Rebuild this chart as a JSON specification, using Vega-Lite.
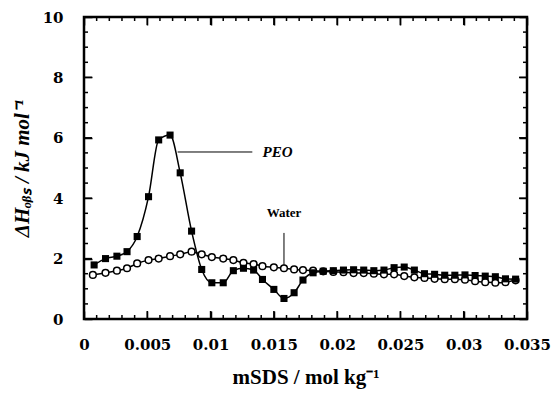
{
  "$schema": "https://vega.github.io/schema/vega-lite/v6.json",
  "width": 443,
  "height": 302,
  "autosize": "none",
  "padding": {"left": 84, "top": 17, "right": 25, "bottom": 75},
  "background": "white",
  "config": {
    "view": {"stroke": "black", "strokeWidth": 2.5},
    "axis": {
      "domain": false,
      "ticks": false,
      "tickSize": 0,
      "grid": false,
      "gridColor": "black",
      "gridOpacity": 1,
      "gridWidth": 1.5,
      "labelColor": "black",
      "labelFont": "DejaVu Serif",
      "labelFontWeight": "bold",
      "labelFontSize": 15,
      "labelOverlap": false,
      "labelFlush": false,
      "titleColor": "black",
      "titleFont": "Liberation Serif",
      "titleFontWeight": "bold",
      "titleFontSize": 21
    }
  },
  "datasets": {
    "series": [
      {"m": 0.0008, "dH": 1.79, "s": "PEO"},
      {"m": 0.0017, "dH": 2.0, "s": "PEO"},
      {"m": 0.0026, "dH": 2.08, "s": "PEO"},
      {"m": 0.0034, "dH": 2.23, "s": "PEO"},
      {"m": 0.0042, "dH": 2.73, "s": "PEO"},
      {"m": 0.0051, "dH": 4.05, "s": "PEO"},
      {"m": 0.0059, "dH": 5.93, "s": "PEO"},
      {"m": 0.0068, "dH": 6.09, "s": "PEO"},
      {"m": 0.0076, "dH": 4.84, "s": "PEO"},
      {"m": 0.0085, "dH": 2.91, "s": "PEO"},
      {"m": 0.0093, "dH": 1.64, "s": "PEO"},
      {"m": 0.0101, "dH": 1.2, "s": "PEO"},
      {"m": 0.011, "dH": 1.2, "s": "PEO"},
      {"m": 0.0118, "dH": 1.6, "s": "PEO"},
      {"m": 0.0126, "dH": 1.68, "s": "PEO"},
      {"m": 0.0134, "dH": 1.62, "s": "PEO"},
      {"m": 0.0141, "dH": 1.31, "s": "PEO"},
      {"m": 0.015, "dH": 0.98, "s": "PEO"},
      {"m": 0.0158, "dH": 0.68, "s": "PEO"},
      {"m": 0.0166, "dH": 0.87, "s": "PEO"},
      {"m": 0.0173, "dH": 1.29, "s": "PEO"},
      {"m": 0.0181, "dH": 1.53, "s": "PEO"},
      {"m": 0.0189, "dH": 1.58, "s": "PEO"},
      {"m": 0.0197, "dH": 1.6, "s": "PEO"},
      {"m": 0.0205, "dH": 1.62, "s": "PEO"},
      {"m": 0.0213, "dH": 1.63, "s": "PEO"},
      {"m": 0.0221, "dH": 1.62, "s": "PEO"},
      {"m": 0.0229, "dH": 1.6, "s": "PEO"},
      {"m": 0.0237, "dH": 1.62, "s": "PEO"},
      {"m": 0.0245, "dH": 1.7, "s": "PEO"},
      {"m": 0.0253, "dH": 1.72, "s": "PEO"},
      {"m": 0.0261, "dH": 1.62, "s": "PEO"},
      {"m": 0.0269, "dH": 1.5, "s": "PEO"},
      {"m": 0.0277, "dH": 1.48, "s": "PEO"},
      {"m": 0.0285, "dH": 1.45, "s": "PEO"},
      {"m": 0.0293, "dH": 1.45, "s": "PEO"},
      {"m": 0.0301, "dH": 1.46, "s": "PEO"},
      {"m": 0.0309, "dH": 1.44, "s": "PEO"},
      {"m": 0.0317, "dH": 1.42, "s": "PEO"},
      {"m": 0.0325, "dH": 1.4, "s": "PEO"},
      {"m": 0.0333, "dH": 1.33, "s": "PEO"},
      {"m": 0.0341, "dH": 1.32, "s": "PEO"},
      {"m": 0.0007, "dH": 1.46, "s": "Water"},
      {"m": 0.0017, "dH": 1.53, "s": "Water"},
      {"m": 0.0026, "dH": 1.6, "s": "Water"},
      {"m": 0.0034, "dH": 1.68, "s": "Water"},
      {"m": 0.0042, "dH": 1.84, "s": "Water"},
      {"m": 0.0051, "dH": 1.95, "s": "Water"},
      {"m": 0.0059, "dH": 2.0, "s": "Water"},
      {"m": 0.0068, "dH": 2.08, "s": "Water"},
      {"m": 0.0076, "dH": 2.14, "s": "Water"},
      {"m": 0.0085, "dH": 2.23, "s": "Water"},
      {"m": 0.0093, "dH": 2.14, "s": "Water"},
      {"m": 0.0101, "dH": 2.05, "s": "Water"},
      {"m": 0.011, "dH": 2.0, "s": "Water"},
      {"m": 0.0118, "dH": 1.95, "s": "Water"},
      {"m": 0.0126, "dH": 1.86, "s": "Water"},
      {"m": 0.0134, "dH": 1.82, "s": "Water"},
      {"m": 0.0141, "dH": 1.75, "s": "Water"},
      {"m": 0.015, "dH": 1.71, "s": "Water"},
      {"m": 0.0158, "dH": 1.68, "s": "Water"},
      {"m": 0.0166, "dH": 1.64, "s": "Water"},
      {"m": 0.0173, "dH": 1.62, "s": "Water"},
      {"m": 0.0181, "dH": 1.6, "s": "Water"},
      {"m": 0.0189, "dH": 1.58, "s": "Water"},
      {"m": 0.0197, "dH": 1.56, "s": "Water"},
      {"m": 0.0205, "dH": 1.55, "s": "Water"},
      {"m": 0.0213, "dH": 1.52, "s": "Water"},
      {"m": 0.0221, "dH": 1.52, "s": "Water"},
      {"m": 0.0229, "dH": 1.5, "s": "Water"},
      {"m": 0.0237, "dH": 1.48, "s": "Water"},
      {"m": 0.0245, "dH": 1.48, "s": "Water"},
      {"m": 0.0253, "dH": 1.42, "s": "Water"},
      {"m": 0.0261, "dH": 1.38, "s": "Water"},
      {"m": 0.0269, "dH": 1.36, "s": "Water"},
      {"m": 0.0277, "dH": 1.33, "s": "Water"},
      {"m": 0.0285, "dH": 1.32, "s": "Water"},
      {"m": 0.0293, "dH": 1.32, "s": "Water"},
      {"m": 0.0301, "dH": 1.3, "s": "Water"},
      {"m": 0.0309, "dH": 1.25, "s": "Water"},
      {"m": 0.0317, "dH": 1.22, "s": "Water"},
      {"m": 0.0325, "dH": 1.2, "s": "Water"},
      {"m": 0.0333, "dH": 1.22, "s": "Water"},
      {"m": 0.0341, "dH": 1.28, "s": "Water"}
    ],
    "xmajor": [{"v": 0.005}, {"v": 0.01}, {"v": 0.015}, {"v": 0.02}, {"v": 0.025}, {"v": 0.03}],
    "xminor": [{"v": 0.001},{"v": 0.002},{"v": 0.003},{"v": 0.004},{"v": 0.006},{"v": 0.007},{"v": 0.008},{"v": 0.009},{"v": 0.011},{"v": 0.012},{"v": 0.013},{"v": 0.014},{"v": 0.016},{"v": 0.017},{"v": 0.018},{"v": 0.019},{"v": 0.021},{"v": 0.022},{"v": 0.023},{"v": 0.024},{"v": 0.026},{"v": 0.027},{"v": 0.028},{"v": 0.029},{"v": 0.031},{"v": 0.032},{"v": 0.033},{"v": 0.034}],
    "ymajor": [{"v": 2}, {"v": 4}, {"v": 6}, {"v": 8}],
    "yminor": [{"v": 0.5},{"v": 1},{"v": 1.5},{"v": 2.5},{"v": 3},{"v": 3.5},{"v": 4.5},{"v": 5},{"v": 5.5},{"v": 6.5},{"v": 7},{"v": 7.5},{"v": 8.5},{"v": 9},{"v": 9.5}],
    "notes": [
      {"label": "PEO", "x": 0.0074, "x2": 0.0133, "y": 5.53, "y2": 5.53, "tx": 0.0141, "ty": 5.53},
      {"label": "Water", "x": 0.0158, "x2": 0.0158, "y": 2.85, "y2": 1.79, "tx": 0.0158, "ty": 3.5}
    ]
  },
  "resolve": {"axis": {"x": "independent", "y": "independent"}},
  "layer": [
    {
      "data": {"name": "series"},
      "transform": [{"filter": "datum.s === 'Water'"}],
      "mark": {"type": "line", "color": "black", "strokeWidth": 1.5, "interpolate": "monotone"},
      "encoding": {
        "x": {
          "field": "m", "type": "quantitative",
          "scale": {"domain": [0, 0.035], "nice": false, "zero": false},
          "axis": {
            "orient": "bottom",
            "title": "mSDS / mol kg⁻¹",
            "values": [0,0.005,0.01,0.015,0.02,0.025,0.03,0.035],
            "format": "~g",
            "grid": true,
            "gridDash": [8, 286, 8, 100],
            "labelPadding": 18,
            "titlePadding": 14
          }
        },
        "y": {
          "field": "dH", "type": "quantitative",
          "scale": {"domain": [0, 10], "nice": false},
          "axis": {
            "orient": "left",
            "title": "ΔHₒᵦₛ / kJ mol⁻¹",
            "titleFontStyle": "italic",
            "values": [0,2,4,6,8,10],
            "format": "d",
            "grid": true,
            "gridDash": [8, 427, 8, 100],
            "labelPadding": 21,
            "titlePadding": 10
          }
        }
      }
    },
    {
      "data": {"name": "series"},
      "transform": [{"filter": "datum.s === 'Water'"}],
      "mark": {"type": "point", "shape": "circle", "filled": true, "fill": "white", "stroke": "black", "strokeWidth": 1.5, "size": 45, "opacity": 1},
      "encoding": {
        "x": {"field": "m", "type": "quantitative", "axis": null},
        "y": {"field": "dH", "type": "quantitative", "axis": null}
      }
    },
    {
      "data": {"name": "series"},
      "transform": [{"filter": "datum.s === 'PEO'"}],
      "mark": {"type": "line", "color": "black", "strokeWidth": 1.5, "interpolate": "monotone"},
      "encoding": {
        "x": {"field": "m", "type": "quantitative", "axis": null},
        "y": {"field": "dH", "type": "quantitative", "axis": null}
      }
    },
    {
      "data": {"name": "series"},
      "transform": [{"filter": "datum.s === 'PEO'"}],
      "mark": {"type": "square", "color": "black", "size": 50, "opacity": 1},
      "encoding": {
        "x": {"field": "m", "type": "quantitative", "axis": null},
        "y": {"field": "dH", "type": "quantitative", "axis": null}
      }
    },
    {
      "data": {"name": "xmajor"},
      "mark": {"type": "rule", "color": "black", "strokeWidth": 1.5, "y2Offset": -8},
      "encoding": {
        "x": {"field": "v", "type": "quantitative", "axis": null},
        "y": {"datum": 0, "type": "quantitative", "axis": null},
        "y2": {"datum": 0}
      }
    },
    {
      "data": {"name": "xmajor"},
      "mark": {"type": "rule", "color": "black", "strokeWidth": 1.5, "y2Offset": 8},
      "encoding": {
        "x": {"field": "v", "type": "quantitative", "axis": null},
        "y": {"datum": 10, "type": "quantitative", "axis": null},
        "y2": {"datum": 10}
      }
    },
    {
      "data": {"name": "xminor"},
      "mark": {"type": "rule", "color": "black", "strokeWidth": 1.5, "y2Offset": -4},
      "encoding": {
        "x": {"field": "v", "type": "quantitative", "axis": null},
        "y": {"datum": 0, "type": "quantitative", "axis": null},
        "y2": {"datum": 0}
      }
    },
    {
      "data": {"name": "xminor"},
      "mark": {"type": "rule", "color": "black", "strokeWidth": 1.5, "y2Offset": 4},
      "encoding": {
        "x": {"field": "v", "type": "quantitative", "axis": null},
        "y": {"datum": 10, "type": "quantitative", "axis": null},
        "y2": {"datum": 10}
      }
    },
    {
      "data": {"name": "ymajor"},
      "mark": {"type": "rule", "color": "black", "strokeWidth": 1.5, "x2Offset": 8},
      "encoding": {
        "y": {"field": "v", "type": "quantitative", "axis": null},
        "x": {"datum": 0, "type": "quantitative", "axis": null},
        "x2": {"datum": 0}
      }
    },
    {
      "data": {"name": "ymajor"},
      "mark": {"type": "rule", "color": "black", "strokeWidth": 1.5, "x2Offset": -8},
      "encoding": {
        "y": {"field": "v", "type": "quantitative", "axis": null},
        "x": {"datum": 0.035, "type": "quantitative", "axis": null},
        "x2": {"datum": 0.035}
      }
    },
    {
      "data": {"name": "yminor"},
      "mark": {"type": "rule", "color": "black", "strokeWidth": 1.5, "x2Offset": 4},
      "encoding": {
        "y": {"field": "v", "type": "quantitative", "axis": null},
        "x": {"datum": 0, "type": "quantitative", "axis": null},
        "x2": {"datum": 0}
      }
    },
    {
      "data": {"name": "yminor"},
      "mark": {"type": "rule", "color": "black", "strokeWidth": 1.5, "x2Offset": -4},
      "encoding": {
        "y": {"field": "v", "type": "quantitative", "axis": null},
        "x": {"datum": 0.035, "type": "quantitative", "axis": null},
        "x2": {"datum": 0.035}
      }
    },
    {
      "data": {"name": "notes"},
      "mark": {"type": "rule", "color": "black", "strokeWidth": 1},
      "encoding": {
        "x": {"field": "x", "type": "quantitative", "axis": null},
        "x2": {"field": "x2"},
        "y": {"field": "y", "type": "quantitative", "axis": null},
        "y2": {"field": "y2"}
      }
    },
    {
      "data": {"name": "notes"},
      "transform": [{"filter": "datum.label === 'PEO'"}],
      "mark": {"type": "text", "color": "black", "font": "Liberation Serif", "fontWeight": "bold", "fontStyle": "italic", "fontSize": 15, "align": "left", "baseline": "middle"},
      "encoding": {
        "x": {"field": "tx", "type": "quantitative", "axis": null},
        "y": {"field": "ty", "type": "quantitative", "axis": null},
        "text": {"field": "label"}
      }
    },
    {
      "data": {"name": "notes"},
      "transform": [{"filter": "datum.label === 'Water'"}],
      "mark": {"type": "text", "color": "black", "font": "Liberation Serif", "fontWeight": "bold", "fontSize": 13, "align": "center", "baseline": "middle"},
      "encoding": {
        "x": {"field": "tx", "type": "quantitative", "axis": null},
        "y": {"field": "ty", "type": "quantitative", "axis": null},
        "text": {"field": "label"}
      }
    }
  ]
}
